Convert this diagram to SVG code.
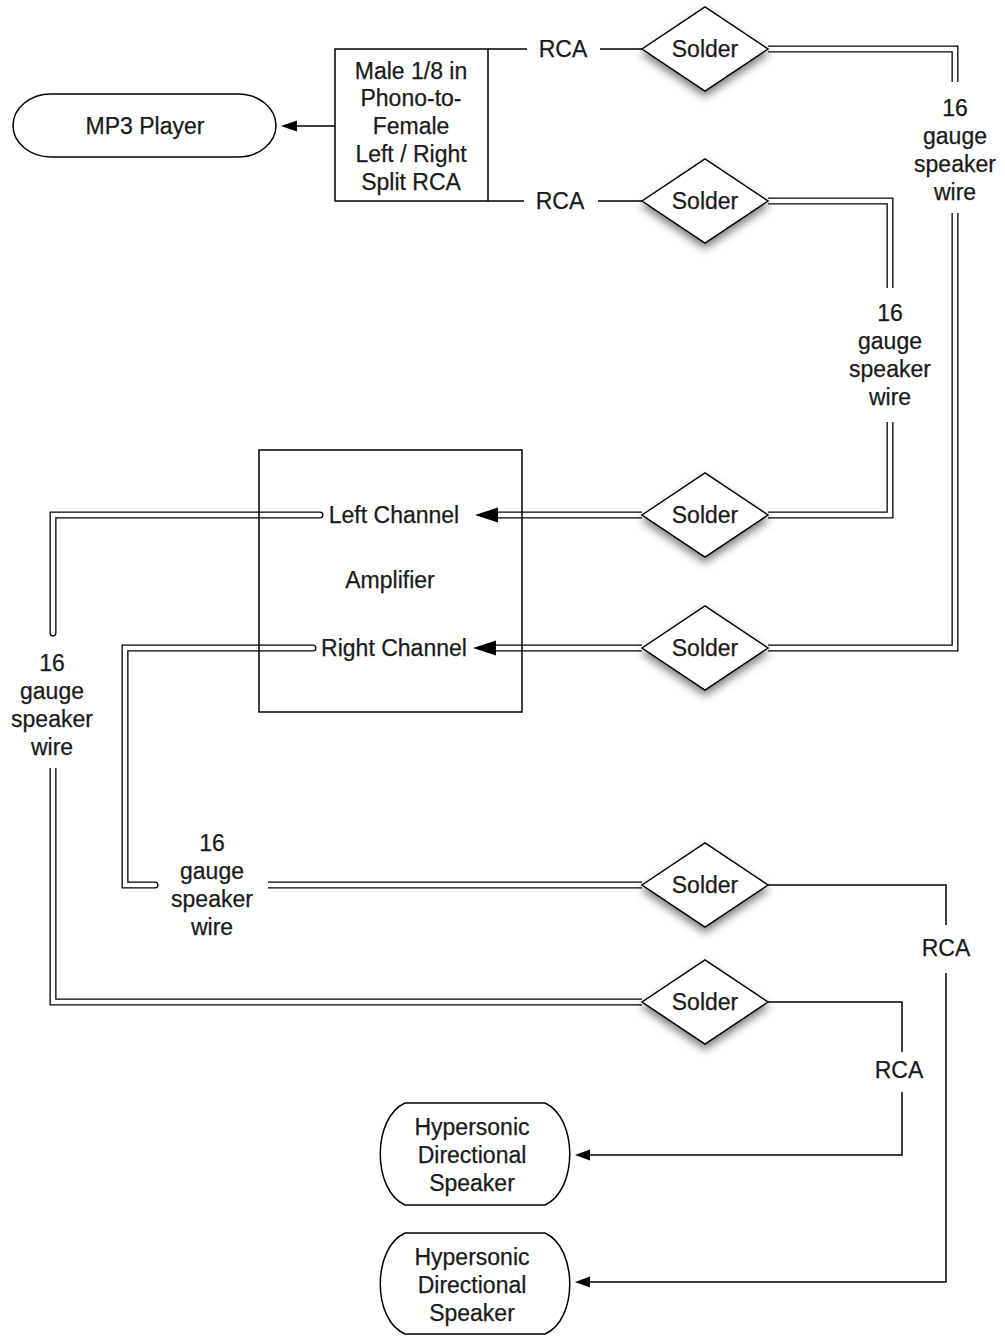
<svg xmlns="http://www.w3.org/2000/svg" xmlns:xlink="http://www.w3.org/1999/xlink" width="1005" height="1336" viewBox="0 0 1005 1336">
<style>
  text { font-family: "Liberation Sans", Arial, Helvetica, sans-serif; font-size: 23px; fill: #1a1a1a; stroke: #1a1a1a; stroke-width: 0.25; text-anchor: middle; }
  .shape { fill: #ffffff; stroke: #000000; stroke-width: 1.5; }
  .box { fill: none; stroke: #000000; stroke-width: 1.5; }
  .single { fill: none; stroke: #000000; stroke-width: 1.5; }
  .dblo { fill: none; stroke: #000000; stroke-width: 7; stroke-linejoin: miter; }
  .dbli { fill: none; stroke: #ffffff; stroke-width: 4.4; stroke-linejoin: miter; }
  .rnd { stroke-linecap: round; }
  .ah { fill: #000000; stroke: none; }
  .diamond { fill: #ffffff; stroke: #000000; stroke-width: 1.5; filter: url(#sh); }
</style>
<defs>
  <filter id="sh" x="-30%" y="-30%" width="160%" height="190%">
    <feDropShadow dx="0" dy="5" stdDeviation="4" flood-color="#000000" flood-opacity="0.5"/>
  </filter>
  <path id="w1a" d="M768,49 H955 V82"/>
  <path id="w1b" d="M955,213 V648 H768"/>
  <path id="w2a" d="M768,201 H890 V288"/>
  <path id="w2b" d="M890,422 V515 H768"/>
  <path id="w3" d="M642,515 H496"/>
  <path id="w4" d="M642,648 H496"/>
  <path id="w5a" d="M320,515 H53 V633"/>
  <path id="w5b" d="M53,768 V1002 H642"/>
  <path id="w6a" d="M313,648 H125 V885 H155"/>
  <path id="w6b" d="M268,885 H642"/>
</defs>
<rect width="1005" height="1336" fill="#ffffff"/>

<g id="connectors">
  <!-- single wires -->
  <path class="single" d="M335,126 H296"/>
  <polygon class="ah" points="281,126 297,120.5 297,131.5"/>
  <path class="single" d="M488,49 H527 M600,49 H642"/>
  <path class="single" d="M488,201 H524 M598,201 H642"/>
  <path class="single" d="M768,885 H946 V925 M946,973 V1282 H589"/>
  <polygon class="ah" points="575,1282 590,1276.5 590,1287.5"/>
  <path class="single" d="M768,1002 H902 V1052 M902,1092 V1155 H589"/>
  <polygon class="ah" points="575,1155 590,1149.5 590,1160.5"/>

  <!-- double (16 gauge speaker wire) -->
  <use xlink:href="#w1a" class="dblo"/><use xlink:href="#w1a" class="dbli"/>
  <use xlink:href="#w1b" class="dblo"/><use xlink:href="#w1b" class="dbli"/>
  <use xlink:href="#w2a" class="dblo"/><use xlink:href="#w2a" class="dbli"/>
  <use xlink:href="#w2b" class="dblo"/><use xlink:href="#w2b" class="dbli"/>
  <use xlink:href="#w3" class="dblo"/><use xlink:href="#w3" class="dbli"/>
  <polygon class="ah" points="475,515 498,507.5 498,522.5"/>
  <use xlink:href="#w4" class="dblo"/><use xlink:href="#w4" class="dbli"/>
  <polygon class="ah" points="473,648 496,640.5 496,655.5"/>
  <use xlink:href="#w5a" class="dblo rnd"/><use xlink:href="#w5a" class="dbli rnd"/>
  <use xlink:href="#w5b" class="dblo"/><use xlink:href="#w5b" class="dbli"/>
  <use xlink:href="#w6a" class="dblo rnd"/><use xlink:href="#w6a" class="dbli rnd"/>
  <use xlink:href="#w6b" class="dblo"/><use xlink:href="#w6b" class="dbli"/>

  <!-- labels -->
  <text x="563" y="57">RCA</text>
  <text x="560" y="209">RCA</text>
  <text x="946" y="956">RCA</text>
  <text x="899" y="1078">RCA</text>
  <g id="lbl1">
    <text x="955" y="116">16</text><text x="955" y="144">gauge</text><text x="955" y="172">speaker</text><text x="955" y="200">wire</text>
  </g>
  <g id="lbl2">
    <text x="890" y="321">16</text><text x="890" y="349">gauge</text><text x="890" y="377">speaker</text><text x="890" y="405">wire</text>
  </g>
  <g id="lbl3">
    <text x="52" y="671">16</text><text x="52" y="699">gauge</text><text x="52" y="727">speaker</text><text x="52" y="755">wire</text>
  </g>
  <g id="lbl4">
    <text x="212" y="851">16</text><text x="212" y="879">gauge</text><text x="212" y="907">speaker</text><text x="212" y="935">wire</text>
  </g>
</g>

<g id="mp3">
  <rect class="shape" x="13" y="94" width="263" height="63" rx="38" ry="31.5"/>
  <text x="145" y="134">MP3 Player</text>
</g>

<g id="splitter">
  <rect class="shape" x="335" y="49" width="153" height="152"/>
  <text x="411" y="79">Male 1/8 in</text>
  <text x="411" y="106">Phono-to-</text>
  <text x="411" y="134">Female</text>
  <text x="411" y="162">Left / Right</text>
  <text x="411" y="190">Split RCA</text>
</g>

<g id="solder1"><polygon class="diamond" points="642,49 705,7 768,49 705,91"/><text x="705" y="57">Solder</text></g>
<g id="solder2"><polygon class="diamond" points="642,201 705,159 768,201 705,243"/><text x="705" y="209">Solder</text></g>
<g id="solder3"><polygon class="diamond" points="642,515 705,473 768,515 705,557"/><text x="705" y="523">Solder</text></g>
<g id="solder4"><polygon class="diamond" points="642,648 705,606 768,648 705,690"/><text x="705" y="656">Solder</text></g>
<g id="solder5"><polygon class="diamond" points="642,885 705,843 768,885 705,927"/><text x="705" y="893">Solder</text></g>
<g id="solder6"><polygon class="diamond" points="642,1002 705,960 768,1002 705,1044"/><text x="705" y="1010">Solder</text></g>

<g id="amplifier">
  <rect class="box" x="259" y="450" width="263" height="262"/>
  <text x="394" y="523">Left Channel</text>
  <text x="390" y="588">Amplifier</text>
  <text x="394" y="656">Right Channel</text>
</g>

<g id="speaker1">
  <path class="shape" d="M405,1103 H545 C578,1118 578,1190 545,1205 H405 C372,1190 372,1118 405,1103 Z"/>
  <text x="472" y="1135">Hypersonic</text>
  <text x="472" y="1163">Directional</text>
  <text x="472" y="1191">Speaker</text>
</g>

<g id="speaker2">
  <path class="shape" d="M405,1233 H545 C578,1248 578,1320 545,1334 H405 C372,1320 372,1248 405,1233 Z"/>
  <text x="472" y="1265">Hypersonic</text>
  <text x="472" y="1293">Directional</text>
  <text x="472" y="1321">Speaker</text>
</g>
</svg>
